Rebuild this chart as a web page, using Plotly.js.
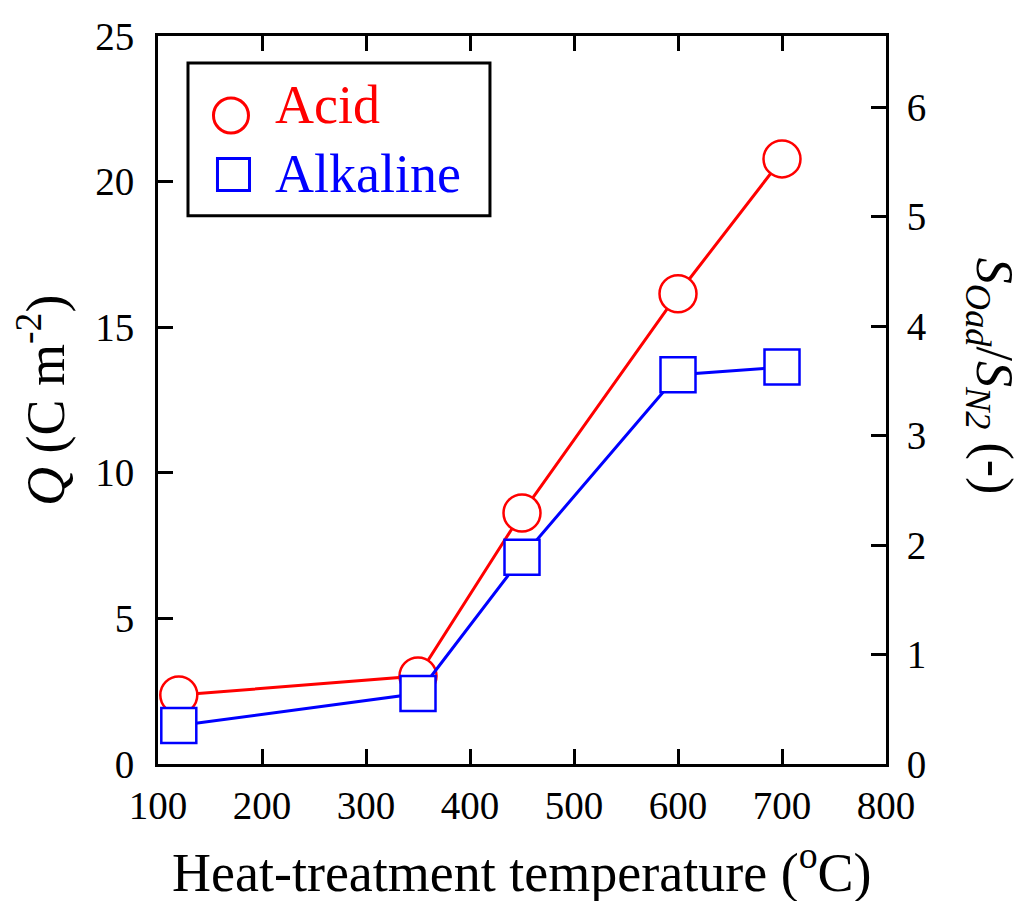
<!DOCTYPE html>
<html>
<head>
<meta charset="utf-8">
<script src="https://cdn.plot.ly/plotly-3.0.1.min.js"></script>
<style>html,body{margin:0;padding:0;background:#fff;}#chart{width:1017px;height:901px;}</style>
</head>
<body>
<div id="chart"></div>
<script>
// Data
const temperatures = [120, 350, 450, 600, 700];          // Heat-treatment temperature (°C)
const acidQ = [2.37, 3.02, 8.62, 16.15, 20.78];          // Q (C m^-2), acid
const alkalineQ = [1.32, 2.42, 7.1, 13.37, 13.63];       // Q (C m^-2), alkaline
const xTicks = [100, 200, 300, 400, 500, 600, 700, 800];
const yTicks = [0, 5, 10, 15, 20, 25];
const y2Ticks = [0, 1, 2, 3, 4, 5, 6];
const seriesNames = ['Acid', 'Alkaline'];

const FONT = 'Liberation Serif, Times New Roman, serif';
const RED = '#ff0000', BLUE = '#0000ff';

const traces = [
  {
    x: temperatures, y: acidQ, name: seriesNames[0], type: 'scatter', mode: 'lines+markers',
    line: {color: RED, width: 3},
    marker: {symbol: 'circle', size: 37, color: '#ffffff', line: {color: RED, width: 2.5}},
    showlegend: false, hoverinfo: 'x+y'
  },
  {
    x: temperatures, y: alkalineQ, name: seriesNames[1], type: 'scatter', mode: 'lines+markers',
    line: {color: BLUE, width: 3},
    marker: {symbol: 'square', size: 35, color: '#ffffff', line: {color: BLUE, width: 2.5}},
    showlegend: false, hoverinfo: 'x+y'
  },
  { x: [], y: [], yaxis: 'y2', type: 'scatter', mode: 'markers', showlegend: false, hoverinfo: 'skip' }
];

const axisCommon = {
  showgrid: false, zeroline: false, showline: true, linecolor: '#000', linewidth: 3,
  ticks: 'inside', ticklen: 15, tickwidth: 3, tickcolor: '#000',
  tickfont: {family: FONT, size: 39, color: '#000'}
};

const layout = {
  width: 1017, height: 901,
  margin: {l: 158, r: 131, t: 36, b: 137},
  paper_bgcolor: '#fff', plot_bgcolor: '#fff',
  showlegend: false,
  font: {family: FONT, color: '#000'},
  xaxis: Object.assign({}, axisCommon, {
    range: [100, 800], tickvals: xTicks, ticktext: xTicks.map(String), mirror: 'ticks',
    ticklabelstandoff: 5
  }),
  yaxis: Object.assign({}, axisCommon, {
    range: [0, 25], tickvals: yTicks, ticktext: yTicks.map(String), mirror: true,
    ticklabelstandoff: 13
  }),
  yaxis2: Object.assign({}, axisCommon, {
    range: [0, 6.65], tickvals: y2Ticks, ticktext: y2Ticks.map(String),
    overlaying: 'y', side: 'right', ticklabelstandoff: 10
  }),
  shapes: [
    {type: 'rect', xref: 'paper', yref: 'paper', x0: 0.0412, x1: 0.456, y0: 0.753, y1: 0.963,
     line: {color: '#000', width: 3}, fillcolor: '#fff', layer: 'above'},
    {type: 'circle', xref: 'paper', yref: 'paper', x0: 0.0762, x1: 0.1243, y0: 0.8668, y1: 0.9148,
     line: {color: RED, width: 3}, layer: 'above'},
    {type: 'rect', xref: 'paper', yref: 'paper', x0: 0.0817, x1: 0.1257, y0: 0.7878, y1: 0.8317,
     line: {color: BLUE, width: 3}, layer: 'above'}
  ],
  annotations: [
    {text: seriesNames[0], xref: 'paper', yref: 'paper', x: 0.158, y: 0.9052, xanchor: 'left', yanchor: 'middle',
     showarrow: false, font: {family: FONT, size: 54, color: RED}},
    {text: seriesNames[1], xref: 'paper', yref: 'paper', x: 0.158, y: 0.8104, xanchor: 'left', yanchor: 'middle',
     showarrow: false, font: {family: FONT, size: 54, color: BLUE}},
    {text: 'Heat-treatment temperature (<sup>o</sup>C)', xref: 'paper', yref: 'paper', x: 0.5, y: -0.1442,
     xanchor: 'center', yanchor: 'middle', showarrow: false, font: {family: FONT, size: 54, color: '#000'}},
    {text: '<i>Q</i> (C m<sup>-2</sup>)', xref: 'paper', yref: 'paper', x: -0.1607, y: 0.5,
     xanchor: 'center', yanchor: 'middle', textangle: -90, showarrow: false, font: {family: FONT, size: 54, color: '#000'}},
    {text: '<i>S</i><sub><i>Oad</i></sub>/<i>S</i><sub><i>N2</i></sub> (-)', xref: 'paper', yref: 'paper', x: 1.143, y: 0.533,
     xanchor: 'center', yanchor: 'middle', textangle: 90, showarrow: false, font: {family: FONT, size: 52, color: '#000'}}
  ]
};

Plotly.newPlot('chart', traces, layout, {displayModeBar: false, staticPlot: true});
</script>
</body>
</html>
